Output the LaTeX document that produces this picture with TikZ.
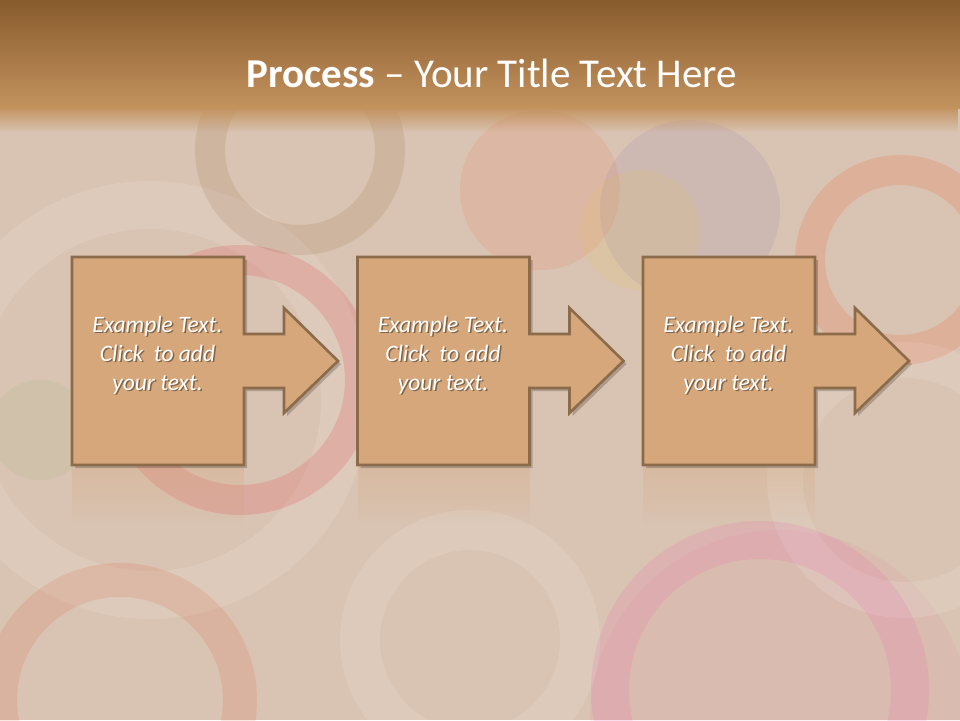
\documentclass[tikz,border=0pt]{standalone}
\usepackage{fontspec}
\setmainfont{Carlito}
\usetikzlibrary{fadings}
\definecolor{boxfill}{HTML}{D5A77A}
\definecolor{boxline}{HTML}{8C6B4A}
\definecolor{bgbase}{HTML}{D9C3B2}
\definecolor{bandtop}{HTML}{885B2D}
\definecolor{bandbot}{HTML}{C3935E}
\newcommand{\bw}{172}
\newcommand{\stepoutline}[1]{(#1,257) -- ({#1+\bw},257) -- ({#1+\bw},334) -- ({#1+212},334) -- ({#1+212},308) -- ({#1+266},361) -- ({#1+212},413) -- ({#1+212},388) -- ({#1+\bw},388) -- ({#1+\bw},465) -- (#1,465) -- cycle}
\newcommand{\stepshape}[2]{%
  \fill[boxfill, path fading=south, opacity=0.3] (#1,467) rectangle ({#1+\bw},525);
  \fill[black, opacity=0.2, shift={(3,3)}] \stepoutline{#1};
  \filldraw[fill=boxfill, draw=boxline, line width=2.6pt, line join=miter] \stepoutline{#1};
  \node[steptext, black, opacity=0.4] at ({#1+87},356.5) {Example Text.\\Click\ \ to add\\your text.};
  \node[steptext] (#2) at ({#1+85.5},355) {Example Text.\\Click\ \ to add\\your text.};
}

\begin{document}
\begin{tikzpicture}[x=1pt, y=-1pt,
  steptext/.style={text=white, align=center, font=\fontsize{23.5}{29}\selectfont\itshape},
  ring/.style={line width=#1, opacity=0.13}]
  % background
  \fill[bgbase] (0,0) rectangle (960,720);
  \begin{scope}
    \clip (0,0) rectangle (960,720);
    \fill[red!60!orange, opacity=0.08] (540,190) circle (80);
    \fill[blue!50!gray, opacity=0.07] (690,210) circle (90);
    \fill[yellow!70!orange, opacity=0.08] (640,230) circle (60);
    \fill[purple!60, opacity=0.08] (780,720) circle (190);
    \fill[green!40!gray, opacity=0.07] (40,430) circle (50);
    \draw[white, ring=48pt] (150,400) circle (195);
    \draw[red!70!purple, ring=30pt] (240,380) circle (120);
    \draw[white, ring=40pt] (470,640) circle (110);
    \draw[white, ring=36pt] (905,480) circle (120);
    \draw[brown!70!black, ring=30pt] (300,150) circle (90);
    \draw[magenta!70, ring=38pt] (760,690) circle (150);
    \draw[brown!60!red, ring=34pt] (120,700) circle (120);
    \draw[red!60!orange, ring=30pt] (900,260) circle (90);
  \end{scope}
  % title band
  \shade[top color=bandtop, bottom color=bandbot] (0,0) rectangle (960,108);
  \fill[bandbot, path fading=south] (0,107) rectangle (960,132);
  \node[anchor=base, text=white, font=\fontsize{41}{49}\selectfont] (title) at (492,87) {\textbf{Process} -- Your Title Text Here};
  % steps
  \stepshape{72}{first}
  \stepshape{357.5}{second}
  \stepshape{643}{third}
\end{tikzpicture}
\end{document}
